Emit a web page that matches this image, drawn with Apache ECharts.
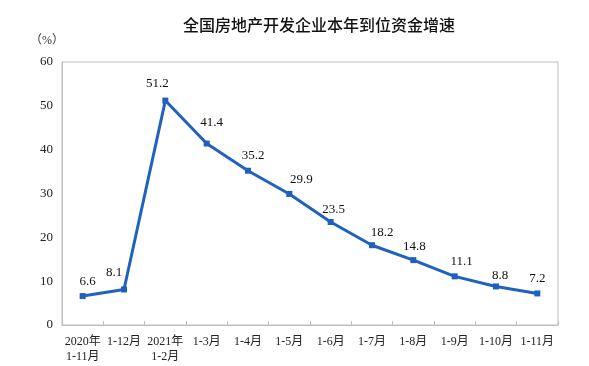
<!DOCTYPE html>
<html><head><meta charset="utf-8">
<script src="https://cdn.jsdelivr.net/npm/echarts@6/dist/echarts.min.js"></script>
<style>html,body{margin:0;padding:0;background:#fff}#c{width:589px;height:366px}</style>
</head><body><div id="c"></div>
<script>
const categories = ['2020年\n1-11月','1-12月','2021年\n1-2月','1-3月','1-4月','1-5月','1-6月','1-7月','1-8月','1-9月','1-10月','1-11月'];
const values = [6.6, 8.1, 51.2, 41.4, 35.2, 29.9, 23.5, 18.2, 14.8, 11.1, 8.8, 7.2];
const yTicks = [0, 10, 20, 30, 40, 50, 60];

// label placement tweaks (style only)
const labelShift = [[5,0],[-10,-2],[-8,-2],[5,-6],[5,-1],[12,0],[3,2],[10,2],[1,1],[7,0],[4,4],[0,0]];

const chart = echarts.init(document.getElementById('c'), null, {renderer: 'canvas'});
const serif = '"Liberation Serif", "Noto Sans CJK SC", serif';
chart.setOption({
  animation: false,
  backgroundColor: '#fff',
  title: {
    text: '全国房地产开发企业本年到位资金增速',
    left: 178, top: 12,
    textStyle: {fontFamily: '"Noto Sans CJK SC"', fontSize: 16, fontWeight: 500, color: '#111'}
  },
  graphic: [{
    type: 'text', left: 30, top: 35,
    style: {text: '（%）', font: '12px ' + serif, fill: '#333'}
  }],
  grid: {left: 62, right: 31, top: 62, bottom: 41, show: true, borderColor: '#bfbfbf', borderWidth: 1},
  xAxis: {
    type: 'category', data: categories, boundaryGap: true,
    axisLine: {lineStyle: {color: '#bfbfbf'}},
    axisTick: {show: true, inside: true, length: 4, lineStyle: {color: '#bfbfbf'}},
    axisLabel: {fontFamily: serif, fontSize: 12, color: '#222', interval: 0, margin: 9, lineHeight: 15}
  },
  yAxis: {
    type: 'value', min: yTicks[0], max: yTicks[yTicks.length - 1], interval: 10,
    axisLine: {show: true, lineStyle: {color: '#bfbfbf'}},
    axisTick: {show: false},
    splitLine: {show: false},
    axisLabel: {fontFamily: serif, fontSize: 13, color: '#222', margin: 9}
  },
  series: [{
    type: 'line',
    data: values.map((v, i) => ({value: v, label: {offset: labelShift[i]}})),
    symbol: 'rect', symbolSize: 6,
    lineStyle: {color: '#1f62bf', width: 3},
    itemStyle: {color: '#1f5fbf'},
    label: {show: true, position: 'top', distance: 5, fontFamily: serif, fontSize: 13, color: '#111'}
  }]
});
</script></body></html>
